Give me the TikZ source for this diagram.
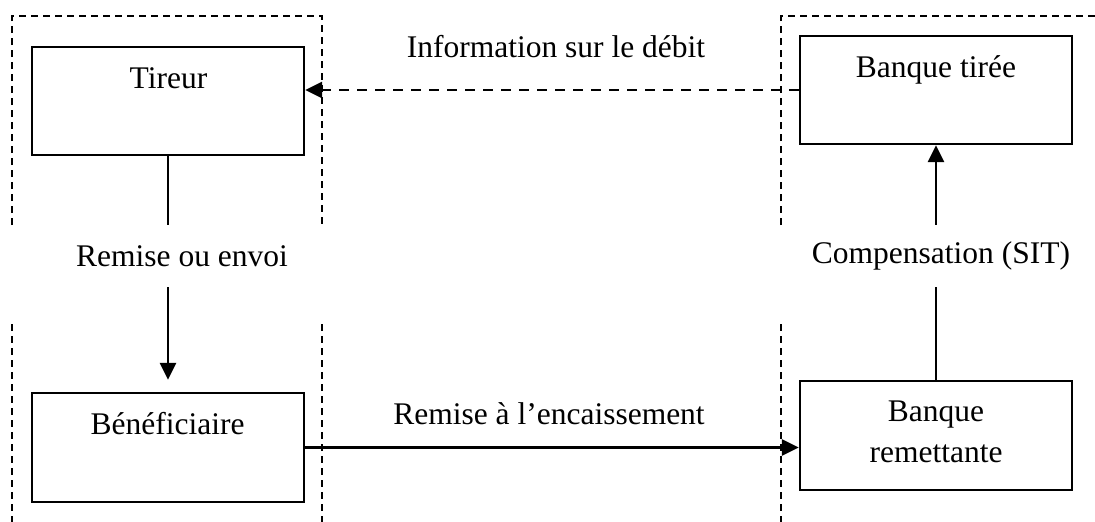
\documentclass[tikz,border=0pt]{standalone}
\usepackage{fontspec}
\setmainfont{Liberation Serif}
\usetikzlibrary{arrows.meta}
\begin{document}
\begin{tikzpicture}[x=1pt,y=1pt,
  box/.style={draw, line width=2.4pt, minimum width=272pt, minimum height=108pt, inner sep=0pt},
  txt/.style={font=\fontsize{31.5}{41}\selectfont, inner sep=0pt, align=center},
  gap/.style={txt, minimum height=62pt},
  frame/.style={dash pattern=on 7pt off 5pt, line width=1.8pt},
  link/.style={line width=2.4pt},
  tip/.style={-{Triangle[length=17pt,width=16pt]}},
  flow/.style={line width=2.8pt, tip},
  info/.style={line width=2.8pt, dash pattern=on 10pt off 8pt, tip}
]
\useasboundingbox (0,0) rectangle (1095,-522);

% dashed zones
\draw[frame] (12,-225) -- (12,-16) -- (322,-16) -- (322,-225);
\draw[frame] (781,-225) -- (781,-16) -- (1095,-16);
\draw[frame] (12,-324) -- (12,-522);
\draw[frame] (322,-324) -- (322,-522);
\draw[frame] (781,-324) -- (781,-522);

% boxes
\node[box] (tireur) at (168,-101) {};
\node[box] (tiree) at (936,-90) {};
\node[box, minimum height=109pt] (benef) at (168,-447.5) {};
\node[box, minimum height=109pt] (remet) at (936,-435.5) {};

% box texts
\node[txt] (tireurtxt) at (168.5,-78) {Tireur};
\node[txt] (tireetxt) at (936,-69.6) {Banque tirée};
\node[txt] (beneftxt) at (167.5,-424) {Bénéficiaire};
\node[txt] (remettxt) at (936,-431.5) {Banque\\remettante};

% flow labels
\node[gap] (remise) at (182,-256) {Remise ou envoi};
\node[gap] (compens) at (941,-256) {Compensation (SIT)};
\node[txt] (infotxt) at (556,-47) {Information sur le débit};
\node[txt] (encaisse) at (549,-414) {Remise à l’encaissement};

% connectors
\draw[link] (tireur.south) -- (tireur.south |- remise.north);
\draw[flow, shorten >=12pt] (tireur.south |- remise.south) -- (benef.north);
\draw[link] (remet.north) -- (remet.north |- compens.south);
\draw[flow] (remet.north |- compens.north) -- (tiree.south);
\draw[flow] (benef.east) -- (benef.east -| remet.west);
\draw[info] (tiree.west) -- (tiree.west -| tireur.east);
\end{tikzpicture}
\end{document}
